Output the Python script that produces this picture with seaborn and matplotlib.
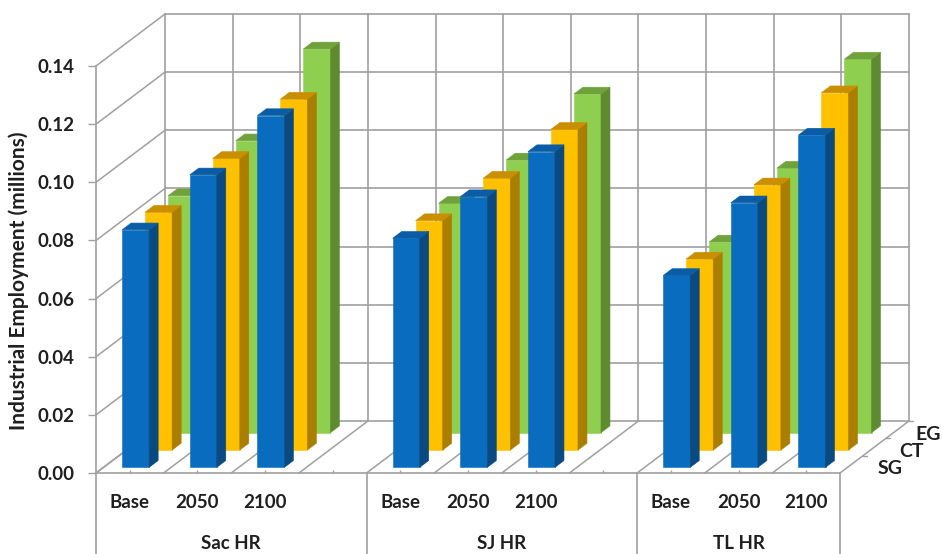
import numpy as np
import pandas as pd
import seaborn as sns
import matplotlib.pyplot as plt
from matplotlib.patches import Polygon

groups = ["Sac HR", "SJ HR", "TL HR"]
years = ["Base", "2050", "2100"]
series = ["SG", "CT", "EG"]
y_ticks = [0.00, 0.02, 0.04, 0.06, 0.08, 0.10, 0.12, 0.14]

sg_vals = [0.0817, 0.1006, 0.1210, 0.0788, 0.0931, 0.1086, 0.0660, 0.0910, 0.1143]
ct_vals = [0.0818, 0.1003, 0.1207, 0.0789, 0.0935, 0.1103, 0.0657, 0.0912, 0.1229]
eg_vals = [0.0815, 0.1004, 0.1320, 0.0789, 0.0938, 0.1165, 0.0656, 0.0910, 0.1285]

front_cols = ["#0A6CBE", "#FFC000", "#8FCF50"]
side_cols = ["#0B4A80", "#AA7E00", "#5F8B30"]
top_cols = ["#0A5CA6", "#C98F00", "#6FA23A"]
grid_col = "#A0A0A0"
text_col = "#1F1F1F"

sns.set_theme(style="white")
plt.rcParams['font.family'] = ['Lato', 'DejaVu Sans']
plt.rcParams['font.weight'] = 'bold'

# 3 years + blank slot per group, last group has no blank
slots = []
for g in groups:
    slots += [g + " " + y for y in years]
    if g != groups[-1]:
        slots.append(g + " gap")

rows = []
for name, vals in zip(series, [sg_vals, ct_vals, eg_vals]):
    labels = [g + " " + y for g in groups for y in years]
    for lab, v in zip(labels, vals):
        rows.append({"slot": lab, "series": name, "value": v})
df = pd.DataFrame(rows)

fig = plt.figure(figsize=(9.42, 5.54), dpi=100)
ax = fig.add_axes([96 / 942, (554 - 473) / 554, 744 / 942, 407 / 554])

# depth of the floor in data units, bars sit inside three depth bands
depth_x = 69 / (744 / 11)
depth_y = 52 / (407 / 0.14)
bar_gap = 0.326 / 3
bar_depth = 9 / 69

# draw back to front
for i in [2, 1, 0]:
    sub = df[df["series"] == series[i]]
    sns.barplot(data=sub, x="slot", y="value", order=slots, color=front_cols[i],
                saturation=1, width=0.4, errorbar=None, ax=ax)
    f = i / 3 + bar_gap
    for bar in ax.containers[-1]:
        x0 = bar.get_x() + depth_x * f - 0.025
        y0 = depth_y * f
        w = bar.get_width()
        h = bar.get_height()
        if not h > 0:
            continue
        bar.set_x(x0)
        bar.set_y(y0)
        bar.set_edgecolor(front_cols[i])
        bar.set_linewidth(0.4)
        bar.set_zorder(5 + (2 - i))
        bar.set_clip_on(False)
        dx = depth_x * bar_depth
        dy = depth_y * bar_depth
        side = [(x0 + w, y0), (x0 + w + dx, y0 + dy), (x0 + w + dx, y0 + h + dy), (x0 + w, y0 + h)]
        top = [(x0, y0 + h), (x0 + dx, y0 + h + dy), (x0 + w + dx, y0 + h + dy), (x0 + w, y0 + h)]
        ax.add_patch(Polygon(side, fc=side_cols[i], ec=side_cols[i], lw=0.4, zorder=5 + (2 - i), clip_on=False))
        ax.add_patch(Polygon(top, fc=top_cols[i], ec=top_cols[i], lw=0.4, zorder=5 + (2 - i), clip_on=False))

x_left, x_right = -0.5, len(slots) - 0.5
ax.set_xlim(x_left, x_right)
ax.set_ylim(0, 0.14)

# back wall and side wall
for t in y_ticks:
    ax.plot([x_left + depth_x, x_right + depth_x], [t + depth_y, t + depth_y],
            color=grid_col, lw=1.2, clip_on=False, zorder=1)
    ax.plot([x_left, x_left + depth_x], [t, t + depth_y], color=grid_col, lw=1.1, clip_on=False, zorder=1)
for b in np.arange(len(slots) + 1) - 0.5:
    ax.plot([b + depth_x, b + depth_x], [depth_y, 0.14 + depth_y], color=grid_col, lw=1.2, clip_on=False, zorder=1)
    ax.plot([b, b + depth_x], [0, depth_y], color=grid_col, lw=1.1, clip_on=False, zorder=2)

# ticks and labels on the depth axis
label_nudge = [0.38, 0.36, 0.26]
for i, name in enumerate(series):
    f = (i + 1) / 3
    ax.plot([x_right + depth_x * f, x_right + depth_x * f + 0.06], [depth_y * f, depth_y * f], color=grid_col, lw=1.0, clip_on=False)
    ax.text(x_right + depth_x * (i + 0.5) / 3 + label_nudge[i], depth_y * (i + 0.5) / 3 - 0.0015, name, fontsize=14,
            color=text_col, ha="left", va="center", clip_on=False)

for s in ["top", "right"]:
    ax.spines[s].set_visible(False)
for s in ["left", "bottom"]:
    ax.spines[s].set_color(grid_col)
    ax.spines[s].set_linewidth(1.2)

ax.set_yticks(y_ticks)
ax.set_yticklabels([f"{t:.2f}" for t in y_ticks], fontsize=13.5, color=text_col)
ax.tick_params(axis="y", length=5.8, width=1, color=grid_col, pad=10, left=True)
ax.set_xticks(range(len(slots)))
ax.set_xticklabels([s.split()[-1] if not s.endswith("gap") else "" for s in slots], fontsize=13.5, color=text_col)
ax.tick_params(axis="x", direction="in", length=2, width=1, color=grid_col, pad=15, bottom=True)
ax.set_xlabel("")
ax.set_ylabel("Industrial Employment (millions)", fontsize=15, fontweight="bold", color=text_col, labelpad=6, y=0.472)

# multi level category axis
seps = [-0.5, 3.5, 7.5, 10.5]
trans = ax.get_xaxis_transform()
for b in seps:
    ax.plot([b, b], [0, -0.2], color=grid_col, lw=1.2, transform=trans, clip_on=False)
for k, g in enumerate(groups):
    ax.text((seps[k] + seps[k + 1]) / 2, -0.172, g, transform=trans, fontsize=13.5,
            color=text_col, ha="center", va="center")

fig.savefig("out.png", dpi=100)
